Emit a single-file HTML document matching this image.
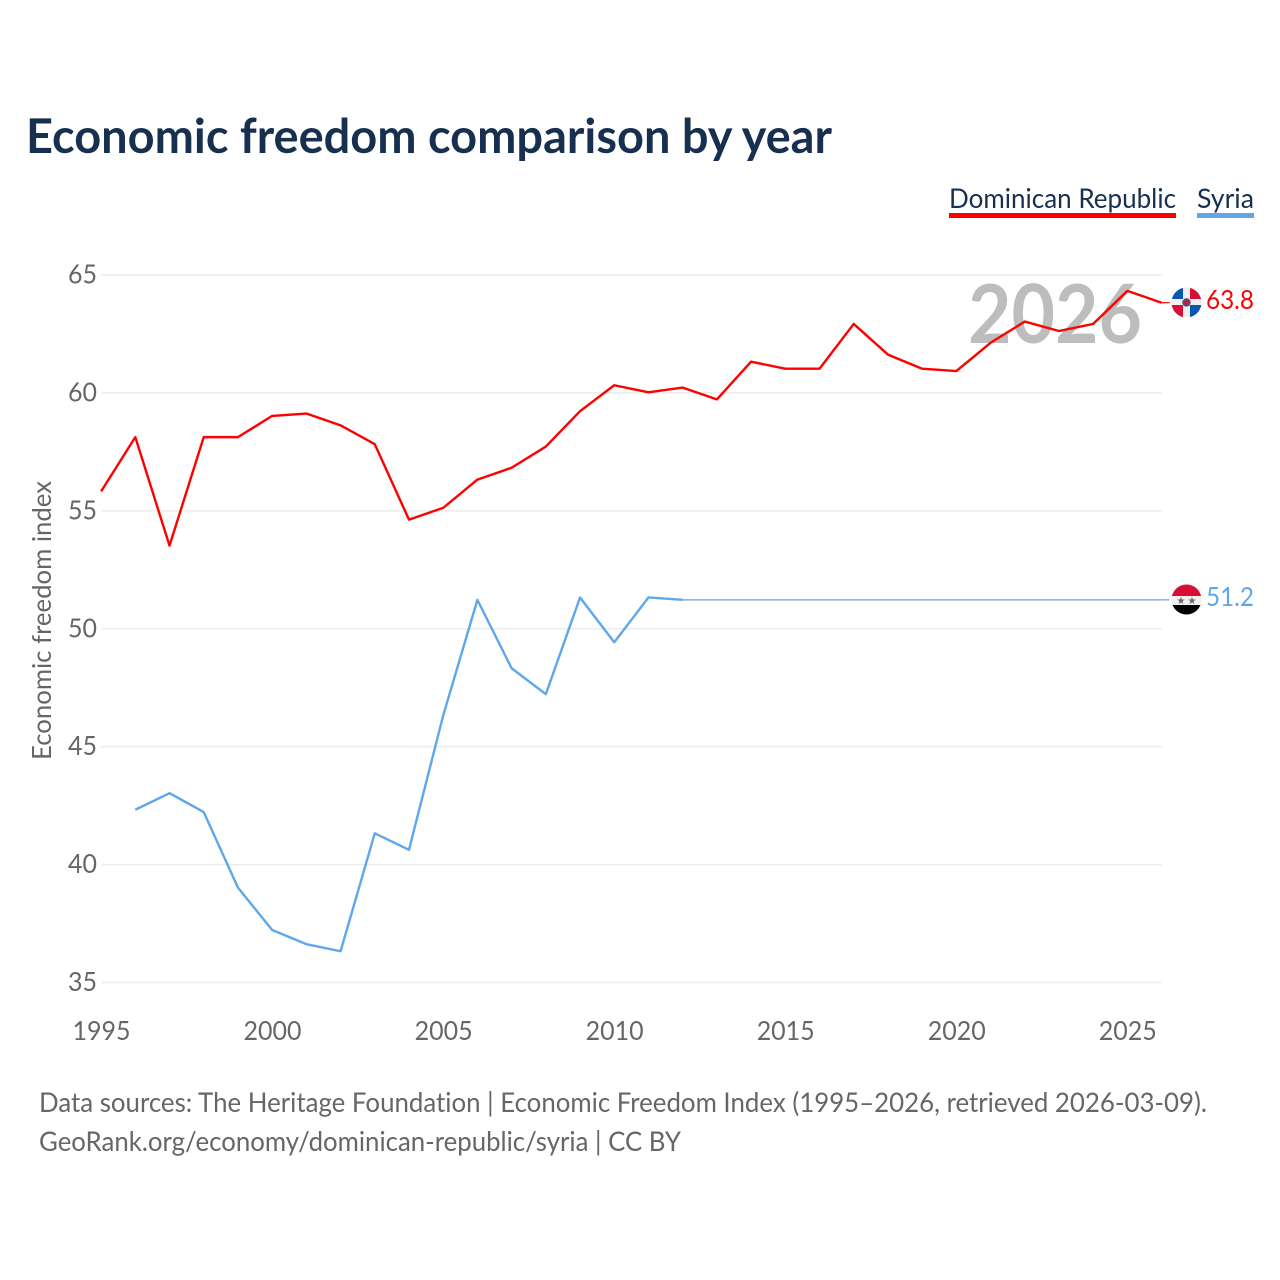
<!DOCTYPE html>
<html lang="en">
<head>
<meta charset="utf-8">
<title>Economic freedom comparison by year</title>
<style>
html,body{margin:0;padding:0;background:#fff;width:1280px;height:1280px;overflow:hidden}
svg{display:block}
text{font-family:"Lato","Carlito","Liberation Sans",sans-serif;font-variant-ligatures:none}
</style>
</head>
<body>
<svg id="chart" width="1280" height="1280" viewBox="0 0 1280 1280" xmlns="http://www.w3.org/2000/svg">
<defs>
<clipPath id="flag-clip-do"><circle cx="1186.5" cy="302.5" r="15"/></clipPath>
<clipPath id="flag-clip-sy"><circle cx="1186.5" cy="599.5" r="15"/></clipPath>
</defs>
<rect x="0" y="0" width="1280" height="1280" fill="#fff"/>
<text x="26" y="153" font-size="48" font-weight="700" fill="#18304f" textLength="806" lengthAdjust="spacingAndGlyphs">Economic freedom comparison by year</text>

<g>
<text x="949" y="208" font-size="27.5" fill="#18304f" textLength="227" lengthAdjust="spacingAndGlyphs">Dominican Republic</text>
<rect x="949" y="213" width="227" height="5" fill="#ff0000"/>
<text x="1197" y="208" font-size="27.5" fill="#18304f" textLength="57" lengthAdjust="spacingAndGlyphs">Syria</text>
<rect x="1197" y="213" width="57" height="5" fill="#5fa6ea"/>
</g>

<g id="grid"></g>
<g id="y-ticks"></g>
<g id="x-ticks"></g>

<text transform="translate(51,760) rotate(-90)" x="0" y="0" font-size="26" fill="#666" textLength="279" lengthAdjust="spacingAndGlyphs">Economic freedom index</text>

<text x="968" y="343" font-size="81" font-weight="700" fill="#bdbdbd" textLength="174" lengthAdjust="spacingAndGlyphs">2026</text>

<g id="series" transform="translate(-0.4,-0.6)"></g>

<g>
<g clip-path="url(#flag-clip-do)">
<rect x="1171" y="287" width="31" height="31" fill="#f0f0f0"/>
<rect x="1171" y="287" width="12" height="12" fill="#0a57b0"/>
<rect x="1190" y="305" width="12" height="13" fill="#0a57b0"/>
<rect x="1190" y="287" width="12" height="12" fill="#d80f35"/>
<rect x="1171" y="305" width="12" height="13" fill="#d80f35"/>
</g>
<circle cx="1186.5" cy="302.5" r="3.5" fill="#b0223f" stroke="#44597f" stroke-width="1.5"/>
</g>
<g>
<g clip-path="url(#flag-clip-sy)">
<rect x="1171" y="584" width="31" height="12" fill="#d80f35"/>
<rect x="1171" y="596" width="31" height="9" fill="#f0f0f0"/>
<rect x="1171" y="605" width="31" height="11" fill="#000"/>
</g>
<text x="1181" y="604" font-size="10" fill="#666" text-anchor="middle">★</text>
<text x="1192" y="604" font-size="10" fill="#666" text-anchor="middle">★</text>
</g>

<text x="1254" y="309" font-size="26" fill="#ff0000" text-anchor="end" textLength="48" lengthAdjust="spacingAndGlyphs">63.8</text>
<text x="1254" y="606" font-size="26" fill="#5fa6ea" text-anchor="end" textLength="48" lengthAdjust="spacingAndGlyphs">51.2</text>

<text x="39" y="1112" font-size="27" fill="#666" textLength="1168" lengthAdjust="spacingAndGlyphs">Data sources: The Heritage Foundation | Economic Freedom Index (1995–2026, retrieved 2026-03-09).</text>
<text x="39" y="1151" font-size="27" fill="#666" textLength="642" lengthAdjust="spacingAndGlyphs">GeoRank.org/economy/dominican-republic/syria | CC BY</text>
</svg>
<script>
var years = [1995,1996,1997,1998,1999,2000,2001,2002,2003,2004,2005,2006,2007,2008,2009,2010,2011,2012,2013,2014,2015,2016,2017,2018,2019,2020,2021,2022,2023,2024,2025,2026];
var dominicanValues = [55.8,58.1,53.5,58.1,58.1,59,59.1,58.6,57.8,54.6,55.1,56.3,56.8,57.7,59.2,60.3,60,60.2,59.7,61.3,61,61,62.9,61.6,61,60.9,62.1,63,62.6,62.9,64.3,63.8];
var syriaValues = [null,42.3,43,42.2,39,37.2,36.6,36.3,41.3,40.6,46.3,51.2,48.3,47.2,51.3,49.4,51.3,51.2,null,null,null,null,null,null,null,null,null,null,null,null,null,51.2];
var yTickLabels = [35,40,45,50,55,60,65];
var xTickLabels = [1995,2000,2005,2010,2015,2020,2025];

var NS = 'http://www.w3.org/2000/svg';
function xScale(year){ return 101.5 + (year - 1995) * (1162 - 101.5) / 31; }
function yScale(v){ return 982.5 - (v - 35) * (982.5 - 275) / 30; }
function make(tag, attrs, parent){
  var el = document.createElementNS(NS, tag);
  for (var k in attrs) el.setAttribute(k, attrs[k]);
  parent.appendChild(el);
  return el;
}
var grid = document.getElementById('grid');
var yG = document.getElementById('y-ticks');
var xG = document.getElementById('x-ticks');
var seriesG = document.getElementById('series');

yTickLabels.forEach(function(t){
  var line = make('line', {x1:101.5, x2:1162, y1:yScale(t), y2:yScale(t), stroke:'#ececec', 'stroke-width':1.5}, grid);
  
  
  var label = make('text', {x:97, y:yScale(t) + 8.5, 'font-size':26, fill:'#666', 'text-anchor':'end', textLength:29, lengthAdjust:'spacingAndGlyphs'}, yG);
  
  
  label.textContent = t;
});
xTickLabels.forEach(function(t){
  var label = make('text', {x:xScale(t), y:1040, 'font-size':26, fill:'#666', 'text-anchor':'middle', textLength:58, lengthAdjust:'spacingAndGlyphs'}, xG);
  
  
  label.textContent = t;
});

function pathFrom(vals){
  var d = '', pen = false;
  vals.forEach(function(v, i){
    if (v === null) { pen = false; return; }
    d += (pen ? 'L' : 'M') + xScale(years[i]).toFixed(2) + ' ' + yScale(v).toFixed(2);
    pen = true;
  });
  return d;
}
function lastIndexBeforeGap(vals){
  var i = vals.length - 2;
  while (i >= 0 && vals[i] === null) i--;
  return i;
}

var drLine = make('path', {d:pathFrom(dominicanValues), fill:'none', stroke:'#ff0000', 'stroke-width':2.4, 'stroke-linejoin':'round'}, seriesG);



var syLine = make('path', {d:pathFrom(syriaValues), fill:'none', stroke:'#5fa6ea', 'stroke-width':2.4, 'stroke-linejoin':'round'}, seriesG);



var gapStart = lastIndexBeforeGap(syriaValues);
var syLast = syriaValues[syriaValues.length - 1];
var syExtend = make('line', {x1:xScale(years[gapStart]), y1:yScale(syriaValues[gapStart]), x2:xScale(years[years.length - 1]), y2:yScale(syLast), stroke:'#5fa6ea', 'stroke-width':1.2}, seriesG);



var drLast = dominicanValues[dominicanValues.length - 1];
var drConn = make('line', {x1:xScale(2026), y1:yScale(drLast), x2:1170, y2:yScale(drLast), stroke:'#ff0000', 'stroke-width':1.2}, seriesG);



var syConn = make('line', {x1:xScale(2026), y1:yScale(syLast), x2:1170, y2:yScale(syLast), stroke:'#5fa6ea', 'stroke-width':1.2}, seriesG);


</script>
</body>
</html>
